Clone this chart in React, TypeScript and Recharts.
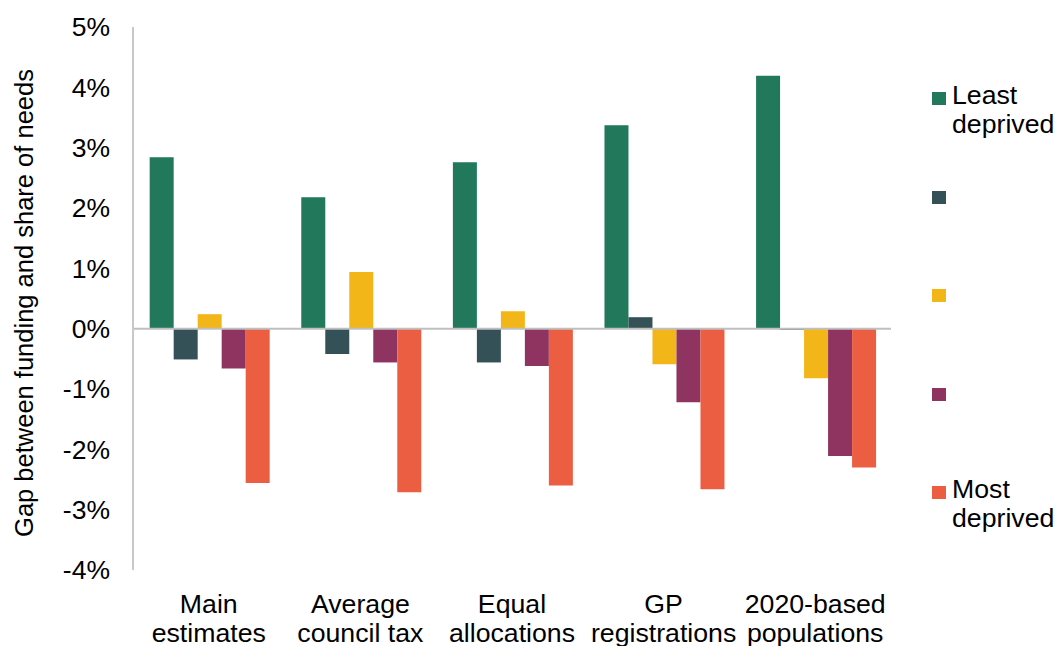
import { BarChart, Bar, XAxis, YAxis, ReferenceLine } from "recharts";

// Gap between each quintile's funding share and its share of needs, in %
const CATEGORIES = [
  "Main|estimates",
  "Average|council tax",
  "Equal|allocations",
  "GP|registrations",
  "2020-based|populations",
];
const LEAST = [2.84, 2.18, 2.76, 3.37, 4.19];
const Q2 = [-0.51, -0.42, -0.56, 0.19, -0.02];
const Q3 = [0.24, 0.94, 0.29, -0.59, -0.82];
const Q4 = [-0.66, -0.56, -0.62, -1.22, -2.11];
const MOST = [-2.56, -2.71, -2.6, -2.66, -2.3];

const SERIES_KEYS = ["least", "q2", "q3", "q4", "most"];
const LEGEND_LABELS = ["Least|deprived", "", "", "", "Most|deprived"];
const COLORS = ["#21785a", "#335157", "#f2b619", "#8f3360", "#ec5e42"];
const Y_TICKS = [-4, -3, -2, -1, 0, 1, 2, 3, 4, 5];
const Y_TITLE = "Gap between funding and share of needs";

const data = CATEGORIES.map((c, i) => ({
  name: c,
  least: LEAST[i],
  q2: Q2[i],
  q3: Q3[i],
  q4: Q4[i],
  most: MOST[i],
}));

const FONT = "'Liberation Sans', Arial, sans-serif";

function CategoryTick(props: any) {
  const { x, y, payload } = props;
  const [l1, l2] = String(payload.value).split("|");
  return (
    <text x={x} y={y} textAnchor="middle" fill="#000" fontSize={26.7} fontFamily={FONT}>
      <tspan x={x} dy={35}>{l1}</tspan>
      <tspan x={x} dy={29}>{l2}</tspan>
    </text>
  );
}

// legend sits to the right of the plot, one row per quintile
function SideLegend() {
  return (
    <div style={{ position: "absolute", left: 932, top: 92, width: 123, height: 460 }}>
      {SERIES_KEYS.map((k, i) => {
        const [a, b] = LEGEND_LABELS[i].split("|");
        return (
          <div key={k} style={{ position: "absolute", left: 0, top: i * 98.5 }}>
            <div
              style={{
                position: "absolute",
                left: 0,
                top: 0,
                width: 14,
                height: 13,
                background: COLORS[i],
              }}
            />
            {a ? (
              <div
                style={{
                  position: "absolute",
                  left: 20,
                  top: -11,
                  fontSize: 26.7,
                  lineHeight: "29px",
                  color: "#000",
                  whiteSpace: "nowrap",
                }}
              >
                {a}
                <br />
                {b}
              </div>
            ) : null}
          </div>
        );
      })}
    </div>
  );
}

export default function App() {
  return (
    <div
      style={{
        position: "absolute",
        left: 0,
        top: 0,
        width: 1055,
        height: 646,
        fontFamily: FONT,
        background: "#fff",
        overflow: "hidden",
      }}
    >
      <BarChart
        width={1055}
        height={646}
        data={data}
        margin={{ top: 27, right: 164, bottom: 0, left: 0 }}
        barCategoryGap="11%"
        barGap={0}
      >
        <XAxis
          dataKey="name"
          axisLine={false}
          tickLine={false}
          height={76}
          interval={0}
          tick={<CategoryTick />}
        />
        <YAxis
          width={133}
          domain={[-4, 5]}
          ticks={Y_TICKS}
          interval={0}
          tickFormatter={(v: number) => `${v}%`}
          axisLine={{ stroke: "#c8c8c8", strokeWidth: 2 }}
          tickLine={false}
          tickMargin={17}
          tick={{ fill: "#000", fontSize: 26.5, fontFamily: FONT }}
          label={{
            value: Y_TITLE,
            content: () => (
              <text
                x={24}
                y={303}
                transform="rotate(-90 24 303)"
                textAnchor="middle"
                dominantBaseline="central"
                fontSize={25.5}
                fontFamily={FONT}
                fill="#000"
              >
                {Y_TITLE}
              </text>
            ),
          }}
        />
        <ReferenceLine y={0} stroke="#bfbfbf" strokeWidth={2} />
        {SERIES_KEYS.map((k, i) => (
          <Bar key={k} dataKey={k} fill={COLORS[i]} isAnimationActive={false} />
        ))}
      </BarChart>
      <SideLegend />
    </div>
  );
}
